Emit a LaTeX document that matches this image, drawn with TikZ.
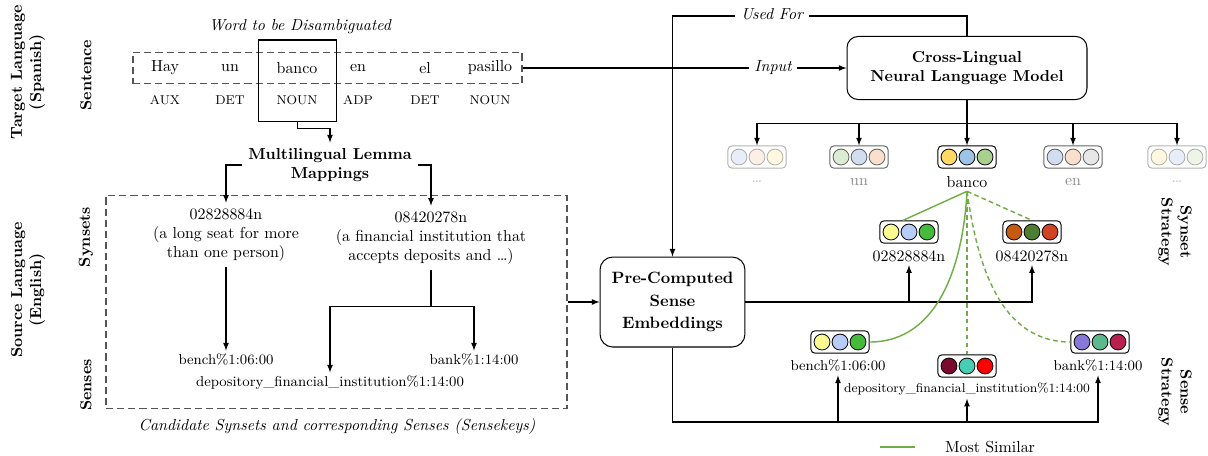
\documentclass[tikz,border=0pt]{standalone}
\usetikzlibrary{arrows,calc}
\definecolor{SimClr}{HTML}{70AD47}
\definecolor{FrameClr}{HTML}{555555}
\definecolor{BlueLtClr}{HTML}{B4C7E7}
\definecolor{OrangeLtClr}{HTML}{F8CBAD}
\definecolor{YellowLtClr}{HTML}{FFE699}
\definecolor{GreenLtClr}{HTML}{C5E0B4}
\definecolor{GreyLtClr}{HTML}{D9D9D9}
\definecolor{YellowClr}{HTML}{FFD966}
\definecolor{BlueClr}{HTML}{9DC3E6}
\definecolor{GreenClr}{HTML}{A9D18E}
\definecolor{PaleYellowClr}{HTML}{FAFA90}
\definecolor{PaleBlueClr}{HTML}{B8CCF8}
\definecolor{LeafClr}{HTML}{44BB3A}
\definecolor{RustClr}{HTML}{C55A11}
\definecolor{MossClr}{HTML}{4E7E30}
\definecolor{BrickClr}{HTML}{D04424}
\definecolor{WineClr}{HTML}{7A0A2E}
\definecolor{TealClr}{HTML}{48CDB5}
\definecolor{RedClr}{HTML}{FF0000}
\definecolor{LilacClr}{HTML}{8878D8}
\definecolor{JadeClr}{HTML}{5DB88E}
\definecolor{CrimsonClr}{HTML}{B82050}

\newcommand{\DrawVec}[6]{%
  \node[vecbox,opacity=#3] (#1) at (#2) {};
  \node[vecdot,fill=#4,opacity=#3] (#1a) at ($(#1)+(-18,0)$) {};
  \node[vecdot,fill=#5,opacity=#3] (#1b) at (#1) {};
  \node[vecdot,fill=#6,opacity=#3] (#1c) at ($(#1)+(18,0)$) {};
}

\begin{document}
\begin{tikzpicture}[x=0.628pt,y=-0.628pt,line width=0.65pt,>=latex,
  lbl/.style={inner sep=2pt},
  sense/.style={inner sep=2pt,font=\small},
  postag/.style={inner sep=2pt,font=\footnotesize},
  italbl/.style={font=\itshape,text height=1.6ex,text depth=0.45ex},
  sideL/.style={font=\bfseries,align=center,rotate=90},
  sideR/.style={font=\bfseries,align=center,rotate=-90},
  frame/.style={draw=FrameClr,dash pattern=on 4.5pt off 2.5pt},
  block/.style={draw,rounded corners=7pt,align=center,font=\bfseries},
  vecbox/.style={draw,rounded corners=2.5pt,fill=white,minimum width=36.5pt,minimum height=14pt,line width=0.6pt},
  vecdot/.style={circle,draw,minimum size=10pt,inner sep=0pt,line width=0.5pt},
  sim/.style={SimClr,line width=0.9pt},
  simdash/.style={sim,dash pattern=on 3pt off 2pt}]
\useasboundingbox (0,0) rectangle (1208,455);

\node[sideL] (tgt) at (28,72) {Target Language\\(Spanish)};
\node[sideL] (sentlbl) at (86,75) {Sentence};
\node[sideL] (src) at (28,290) {Source Language\\(English)};
\node[sideL] (synlbl) at (86,237) {Synsets};
\node[sideL] (senlbl) at (86,385) {Senses};

\node[frame,minimum width=244.3pt,minimum height=20pt] (sent) at (327.5,68) {};
\node[draw,minimum width=48.4pt,minimum height=50.9pt] (focus) at (297.5,80.5) {};
\node[font=\itshape] (wtbd) at (300,27) {Word to be Disambiguated};

\node[lbl] (w1) at (165,68) {Hay};
\node[lbl] (w2) at (230,68) {un};
\node[lbl] (w3) at (297,68) {banco};
\node[lbl] (w4) at (358,68) {en};
\node[lbl] (w5) at (425,68) {el};
\node[lbl] (w6) at (490,68) {pasillo};
\node[postag] (p1) at (165,100) {AUX};
\node[postag] (p2) at (230,100) {DET};
\node[postag] (p3) at (297,100) {NOUN};
\node[postag] (p4) at (358,100) {ADP};
\node[postag] (p5) at (425,100) {DET};
\node[postag] (p6) at (490,100) {NOUN};

\node[font=\bfseries,align=center] (lemma) at (330,165) {Multilingual Lemma\\Mappings};
\draw[->] (focus.south) -- ++(0,7) -| (lemma.north);

\node[frame,minimum width=289.5pt,minimum height=133.8pt] (cand) at (336.5,302) {};
\node[font=\itshape] (candlbl) at (337,427) {Candidate Synsets and corresponding Senses (Sensekeys)};

\node[align=center] (syn1) at (226,235) {02828884n\\(a long seat for more\\than one person)};
\node[align=center] (syn2) at (431,238) {08420278n\\(a financial institution that\\accepts deposits and \dots)};
\node[sense] (bench1) at (226,360) {bench\%1:06:00};
\node[sense] (bank1) at (474,360) {bank\%1:14:00};
\node[sense] (depo1) at (330,383) {depository\_financial\_institution\%1:14:00};

\draw[->] (lemma.west) -| (syn1.north);
\draw[->] (lemma.east) -| (syn2.north);
\draw[->] (syn1.south) -- (bench1.north);
\draw (syn2.south) -- ++(0,36) coordinate (split);
\draw[->] (split) -| (depo1.north);
\draw[->] (split) -| (bank1.north);

\node[block,minimum width=91pt,minimum height=56.5pt,rounded corners=8pt,font=\bfseries\fontsize{10.3}{14}\selectfont] (pre) at (672.5,302) {Pre-Computed\\Sense\\Embeddings};
\node[block,minimum width=150.7pt,minimum height=39.6pt] (model) at (967,68) {Cross-Lingual\\Neural Language Model};
\node[italbl] (input) at (773,68) {Input};
\node[italbl] (usedfor) at (772,16) {Used For};

\draw[->] (cand.east) -- (pre.west);
\draw (sent.east) -- (input.west);
\draw[->] (input.east) -- (model.west);
\draw (model.north) |- (usedfor.east);
\draw[->] (usedfor.west) -| (pre.north);

\DrawVec{e1}{757,157}{0.3}{BlueLtClr}{OrangeLtClr}{YellowLtClr}
\DrawVec{e2}{859,157}{0.6}{GreenLtClr}{BlueLtClr}{OrangeLtClr}
\DrawVec{e3}{967,157}{1}{YellowClr}{BlueClr}{GreenClr}
\DrawVec{e4}{1073,157}{0.6}{BlueLtClr}{OrangeLtClr}{GreyLtClr}
\DrawVec{e5}{1177,157}{0.3}{YellowLtClr}{BlueLtClr}{GreenLtClr}
\node[lbl,text=black!25] (l1) at (757,182) {\dots};
\node[lbl,text=black!45] (l2) at (859,182) {un};
\node[lbl] (l3) at (967,182) {banco};
\node[lbl,text=black!45] (l4) at (1073,182) {en};
\node[lbl,text=black!25] (l5) at (1177,182) {\dots};

\draw (model.south) -- ++(0,23) coordinate (hub);
\draw[->] (hub) -| (e1.north);
\draw[->] (hub) -| (e2.north);
\draw[->] (hub) -- (e3.north);
\draw[->] (hub) -| (e4.north);
\draw[->] (hub) -| (e5.north);

\DrawVec{ss1}{909,232}{1}{PaleYellowClr}{PaleBlueClr}{LeafClr}
\DrawVec{ss2}{1032,232}{1}{RustClr}{MossClr}{BrickClr}
\node[lbl] (sl1) at (909,256) {02828884n};
\node[lbl] (sl2) at (1032,256) {08420278n};

\DrawVec{se1}{840,342}{1}{PaleYellowClr}{PaleBlueClr}{LeafClr}
\DrawVec{se2}{967,366}{1}{WineClr}{TealClr}{RedClr}
\DrawVec{se3}{1100,342}{1}{LilacClr}{JadeClr}{CrimsonClr}
\node[sense] (sel1) at (838,366) {bench\%1:06:00};
\node[sense,font=\footnotesize] (sel2) at (967,389) {depository\_financial\_institution\%1:14:00};
\node[sense] (sel3) at (1098,366) {bank\%1:14:00};

\draw[->] (pre.east) -| (sl2.south);
\draw[->] (sl1.south |- pre.east) -- (sl1.south);
\draw[->] (pre.south) |- (sel3.south |- 0,422) -- (sel3.south);
\draw[->] (sel1.south |- 0,422) -- (sel1.south);
\draw[->] (sel2.south |- 0,422) -- (sel2.south);

\draw[sim] (l3.south) -- ($(ss1.north)+(-6,0)$);
\draw[simdash] (l3.south) -- (ss2.north);
\draw[sim] (l3.south) to[out=-93,in=0] (se1.east);
\draw[simdash] (l3.south) -- (se2.north);
\draw[simdash] (l3.south) to[out=-82,in=180] (se3.west);

\node[sideR] (synstr) at (1175,232) {Synset\\Strategy};
\node[sideR] (senstr) at (1175,392) {Sense\\Strategy};

\coordinate (lg1) at (880,447);
\coordinate (lg2) at (915,447);
\draw[sim] (lg1) -- (lg2);
\node[lbl] (lgtxt) at (990,447) {Most Similar};

\end{tikzpicture}
\end{document}
